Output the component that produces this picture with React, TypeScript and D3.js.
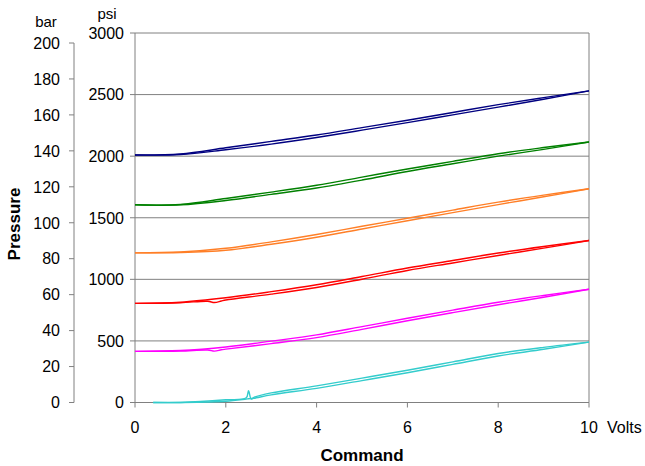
import React from "react";
import * as d3 from "d3";

const volts = [0, 1, 2, 3, 4, 5, 6, 7, 8, 9, 10];
const voltsDip = [0, 1, 1.6, 1.75, 1.9, 2, 3, 4, 5, 6, 7, 8, 9, 10];
const xTicks = [0, 2, 4, 6, 8, 10];
const psiTicks = [0, 500, 1000, 1500, 2000, 2500, 3000];
const barTicks = [0, 20, 40, 60, 80, 100, 120, 140, 160, 180, 200];

const navyUp = [2010, 2018, 2068, 2120, 2172, 2232, 2292, 2355, 2418, 2475, 2530];
const navyDown = [2010, 2013, 2052, 2098, 2152, 2211, 2272, 2335, 2398, 2462, 2530];
const greenUp = [1605, 1608, 1656, 1708, 1764, 1830, 1896, 1958, 2020, 2070, 2115];
const greenDown = [1605, 1605, 1640, 1690, 1742, 1806, 1876, 1938, 2000, 2055, 2115];
const orangeUp = [1215, 1222, 1252, 1304, 1364, 1431, 1496, 1562, 1627, 1684, 1735];
const orangeDown = [1215, 1218, 1236, 1285, 1342, 1409, 1476, 1542, 1607, 1670, 1735];
const redUp = [805, 814, 850, 900, 956, 1023, 1092, 1153, 1214, 1267, 1315];
const redDown = [805, 810, 822, 812, 824, 832, 880, 934, 1001, 1072, 1133, 1194, 1253, 1315];
const magentaUp = [415, 422, 451, 498, 549, 616, 684, 750, 814, 869, 920];
const magentaDown = [415, 418, 426, 417, 428, 433, 478, 527, 594, 664, 730, 794, 855, 920];

const cyanVolts = [0.4, 1, 2, 2.45, 2.5, 2.56, 2.62, 3, 4, 5, 6, 7, 8, 9, 10];
const cyanUp = [0, 0, 22, 38, 95, 28, 42, 78, 135, 198, 262, 330, 398, 448, 490];
const cyanDown = [0, 0, 10, 28, 30, 32, 34, 62, 115, 178, 242, 310, 378, 432, 490];

const series = [
  { color: "#000080", xsUp: volts, up: navyUp, xsDown: volts, down: navyDown },
  { color: "#008000", xsUp: volts, up: greenUp, xsDown: volts, down: greenDown },
  { color: "#ff7f27", xsUp: volts, up: orangeUp, xsDown: volts, down: orangeDown },
  { color: "#ff0000", xsUp: volts, up: redUp, xsDown: voltsDip, down: redDown },
  { color: "#ff00ff", xsUp: volts, up: magentaUp, xsDown: voltsDip, down: magentaDown },
  { color: "#33cccc", xsUp: cyanVolts, up: cyanUp, xsDown: cyanVolts, down: cyanDown },
];

export default function App() {
  const W = 645;
  const H = 466;
  const x = d3.scaleLinear().domain([0, 10]).range([135, 589]);
  const y = d3.scaleLinear().domain([0, 3000]).range([402.5, 33]);
  const yBar = d3.scaleLinear().domain([0, 200]).range([402.5, 43]);
  const font = "'Liberation Sans', Arial, sans-serif";
  const grid = "#808080";

  const mkLine = (xs: number[], vals: number[]) =>
    d3
      .line<number>()
      .x((_, i) => x(xs[i]))
      .y((v) => y(v))
      .curve(d3.curveCatmullRom.alpha(0.5))(vals) || "";

  return (
    <svg
      width={W}
      height={H}
      style={{ position: "absolute", left: 0, top: 0, background: "#fff" }}
      fontFamily={font}
    >
      <rect width={W} height={H} fill="#fff" />
      {psiTicks.map((t) => (
        <line key={"g" + t} x1={x(0)} x2={x(10)} y1={y(t)} y2={y(t)} stroke={grid} strokeWidth={1} />
      ))}
      <line x1={x(10)} x2={x(10)} y1={y(3000)} y2={y(0)} stroke={grid} strokeWidth={1} />
      <line x1={x(0)} x2={x(0)} y1={y(3000)} y2={y(0)} stroke={grid} strokeWidth={1} />
      {psiTicks.map((t) => (
        <g key={"p" + t}>
          <line x1={x(0) - 5} x2={x(0)} y1={y(t)} y2={y(t)} stroke={grid} />
          <text x={124} y={y(t)} dy="0.36em" textAnchor="end" fontSize={16} fill="#000">
            {t}
          </text>
        </g>
      ))}
      <line x1={74} x2={74} y1={yBar(200)} y2={yBar(0)} stroke={grid} strokeWidth={1} />
      {barTicks.map((t) => (
        <g key={"b" + t}>
          <line x1={69} x2={74} y1={yBar(t)} y2={yBar(t)} stroke={grid} />
          <text x={60} y={yBar(t)} dy="0.36em" textAnchor="end" fontSize={16} fill="#000">
            {t}
          </text>
        </g>
      ))}
      <line x1={x(0)} x2={x(10)} y1={y(0)} y2={y(0)} stroke={grid} strokeWidth={1} />
      {xTicks.map((t) => (
        <g key={"x" + t}>
          <line x1={x(t)} x2={x(t)} y1={y(0)} y2={y(0) + 5} stroke={grid} />
          <text x={x(t)} y={433} textAnchor="middle" fontSize={16} fill="#000">
            {t}
          </text>
        </g>
      ))}
      {series.map((s, i) => (
        <g key={"s" + i} fill="none" stroke={s.color} strokeWidth={1.4}>
          <path d={mkLine(s.xsUp, s.up)} />
          <path d={mkLine(s.xsDown, s.down)} />
        </g>
      ))}
      <text x={46} y={27} textAnchor="middle" fontSize={15} fill="#000">bar</text>
      <text x={107} y={19} textAnchor="middle" fontSize={15} fill="#000">psi</text>
      <text x={607} y={433} fontSize={16} fill="#000">Volts</text>
      <text x={362} y={461} textAnchor="middle" fontSize={17} fontWeight="bold" fill="#000">
        Command
      </text>
      <text
        transform="translate(20,224) rotate(-90)"
        textAnchor="middle"
        fontSize={17}
        fontWeight="bold"
        fill="#000"
      >
        Pressure
      </text>
    </svg>
  );
}
